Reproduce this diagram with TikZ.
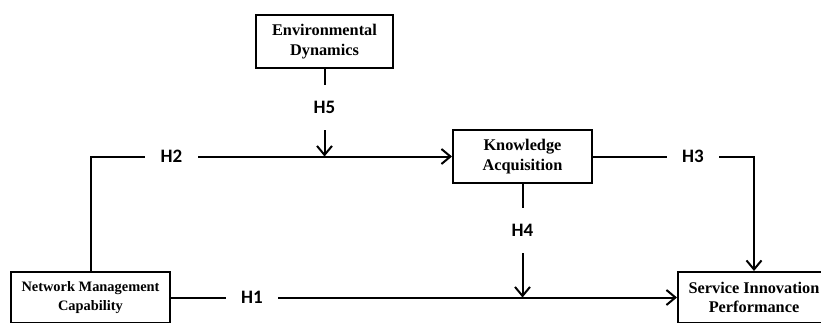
\documentclass[tikz,border=0pt]{standalone}
\usepackage{fontspec}
\setmainfont{Liberation Serif}
\newfontfamily\hypfont{Carlito}
\usetikzlibrary{arrows.meta,positioning}

\tikzset{
  block/.style={draw, line width=2pt, fill=white, align=center, inner sep=0pt,
    font=\bfseries\fontsize{16.3}{19.5}\selectfont},
  link/.style={line width=2pt},
  tip/.style={-{Straight Barb[length=9pt,width=15pt]}},
  hyp/.style={fill=white, inner xsep=15.5pt, inner ysep=16pt,
    font=\hypfont\bfseries\fontsize{19}{19}\selectfont}
}

\begin{document}
\begin{tikzpicture}[x=1pt,y=-1pt]
  \useasboundingbox (0,0) rectangle (821,322);
  %boxes
  \node [block, minimum width=137pt, minimum height=53pt] (env) at (324.5,41.5) {Environmental\\Dynamics};
  \node [block, minimum width=139pt, minimum height=53pt] (know) at (522.5,156.5) {Knowledge\\Acquisition};
  \node [block, minimum width=159pt, minimum height=51pt,
    font=\bfseries\fontsize{14.4}{19}\selectfont] (nmc) at (90.5,297.5) {Network Management\\Capability};
  \node [block, minimum width=152pt, minimum height=51pt] (sip) at (754,297.5) {Service Innovation\\Performance};
  %direct effect
  \draw [link,tip] (nmc.east) -- node [hyp,pos=0.16] {H1} (sip.west);
  %mediation
  \draw [link,tip] (nmc.north) |- node [hyp,pos=0.612] {H2} (know.west);
  \draw [link,tip] (know.east) -| node [hyp,pos=0.31] {H3} (sip.north);
  %moderation
  \coordinate (h5end) at (env.south |- know.west);
  \draw [link,tip] (env.south) -- node [hyp,pos=0.44] {H5} (h5end);
  \coordinate (h4end) at (know.south |- sip.west);
  \draw [link,tip] (know.south) -- node [hyp,pos=0.41] {H4} (h4end);
\end{tikzpicture}
\end{document}
